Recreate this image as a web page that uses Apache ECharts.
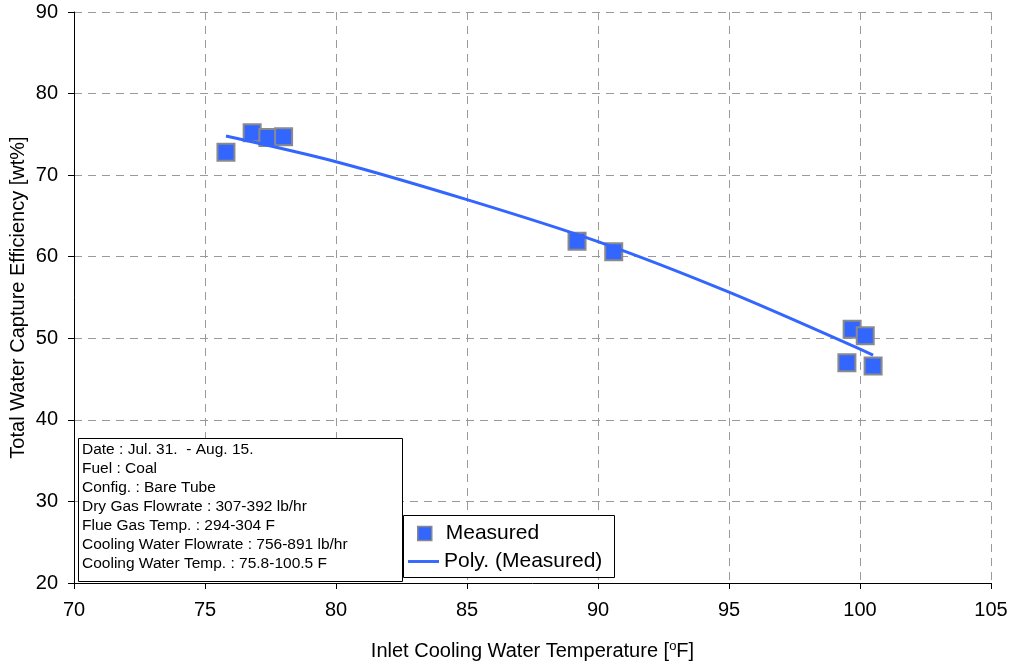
<!DOCTYPE html>
<html>
<head>
<meta charset="utf-8">
<script src="https://cdn.jsdelivr.net/npm/echarts@6/dist/echarts.min.js"></script>
<style>
  html, body { margin: 0; padding: 0; background: #fff; }
  #chart { width: 1009px; height: 663px; }
</style>
</head>
<body>
<div id="chart"></div>
<script>
// Measured inlet cooling water temperature [°F] and total water capture efficiency [wt%]
const measuredTemp = [75.8, 76.8, 77.4, 78.0, 89.2, 90.6, 99.7, 100.2, 99.5, 100.5];
const measuredEff  = [72.8, 75.2, 74.6, 74.7, 61.9, 60.6, 51.1, 50.3, 47.0, 46.6];

// Polynomial trend through the measured points
const trendTemp = [75.8, 80, 85, 90, 95, 100.5];
const trendEff  = [74.8, 71.65, 67.0, 61.85, 55.65, 47.95];

// Test conditions
const noteLines = [
  'Date : Jul. 31.  - Aug. 15.',
  'Fuel : Coal',
  'Config. : Bare Tube',
  'Dry Gas Flowrate : 307-392 lb/hr',
  'Flue Gas Temp. : 294-304 F',
  'Cooling Water Flowrate : 756-891 lb/hr',
  'Cooling Water Temp. : 75.8-100.5 F'
];

const FONT = 'Liberation Sans, Arial, sans-serif';
const BLUE = '#3366ff';

const chart = echarts.init(document.getElementById('chart'), null, { renderer: 'canvas' });

const option = {
  backgroundColor: '#ffffff',
  animation: false,
  textStyle: { fontFamily: FONT, color: '#000' },
  grid: { left: 74, right: 18, top: 12, bottom: 80, containLabel: false, outerBoundsMode: 'none' },
  xAxis: {
    type: 'value',
    min: 70, max: 105, interval: 5,
    name: 'Inlet Cooling Water Temperature [{sup|o}F]',
    nameLocation: 'middle',
    nameGap: 57,
    nameMoveOverlap: false,
    nameTextStyle: {
      fontFamily: FONT, fontSize: 20, color: '#000',
      rich: { sup: { fontFamily: FONT, fontSize: 13, color: '#000', verticalAlign: 'top', padding: [0, 0, 10, 0] } }
    },
    axisLine: { show: true, onZero: false, lineStyle: { color: '#000', width: 1 } },
    axisTick: { show: true, inside: false, length: 6, lineStyle: { color: '#000' } },
    axisLabel: { fontFamily: FONT, fontSize: 20, color: '#000', margin: 17 },
    splitLine: { show: true, lineStyle: { color: '#9a9a9a', type: [8, 6], width: 1 } }
  },
  yAxis: {
    type: 'value',
    min: 20, max: 90, interval: 10,
    name: 'Total Water Capture Efficiency [wt%]',
    nameLocation: 'middle',
    nameGap: 46,
    nameMoveOverlap: false,
    nameTextStyle: { fontFamily: FONT, fontSize: 20, color: '#000' },
    axisLine: { show: true, onZero: false, lineStyle: { color: '#000', width: 1 } },
    axisTick: { show: true, inside: false, length: 6, lineStyle: { color: '#000' } },
    axisLabel: { fontFamily: FONT, fontSize: 20, color: '#000', margin: 16 },
    splitLine: { show: true, lineStyle: { color: '#9a9a9a', type: [8, 6], width: 1 } }
  },
  legend: [
    {
      data: ['Measured'],
      left: 417, top: 523,
      padding: 0,
      itemWidth: 14, itemHeight: 14,
      icon: 'rect',
      itemStyle: { color: BLUE, borderColor: '#888', borderWidth: 1.5 },
      textStyle: { fontFamily: FONT, fontSize: 21, color: '#000', padding: [0, 0, 0, 9] },
      selectedMode: false,
      z: 20
    },
    {
      data: [{ name: 'Poly. (Measured)', icon: 'path://M0,0H32V3H0Z' }],
      left: 408, top: 551,
      padding: 0,
      itemWidth: 31, itemHeight: 3,
      itemStyle: { color: BLUE, borderWidth: 0 },
      textStyle: { fontFamily: FONT, fontSize: 21, color: '#000' },
      selectedMode: false,
      z: 20
    }
  ],
  graphic: [
    {
      type: 'rect',
      left: 403, top: 515, z: 10,
      shape: { width: 211, height: 62 },
      style: { fill: '#fff', stroke: '#000', lineWidth: 1 }
    },
    {
      type: 'rect',
      left: 78, top: 438, z: 10,
      shape: { width: 324, height: 143 },
      style: { fill: '#fff', stroke: '#000', lineWidth: 1 }
    },
    {
      type: 'text',
      left: 82, top: 440, z: 11,
      style: {
        text: noteLines.join('\n'),
        font: '15.5px ' + FONT,
        fill: '#000',
        lineHeight: 19
      }
    }
  ],
  series: [
    {
      name: 'Measured',
      type: 'scatter',
      symbol: 'rect',
      symbolSize: 17,
      itemStyle: { color: BLUE, borderColor: '#8a8a8a', borderWidth: 2, opacity: 1 },
      data: measuredTemp.map((t, i) => [t, measuredEff[i]]),
      z: 3
    },
    {
      name: 'Poly. (Measured)',
      type: 'line',
      smooth: 0.3,
      symbol: 'none',
      lineStyle: { color: BLUE, width: 3 },
      itemStyle: { color: BLUE },
      data: trendTemp.map((t, i) => [t, trendEff[i]]),
      z: 4
    }
  ]
};

chart.setOption(option);
</script>
</body>
</html>
